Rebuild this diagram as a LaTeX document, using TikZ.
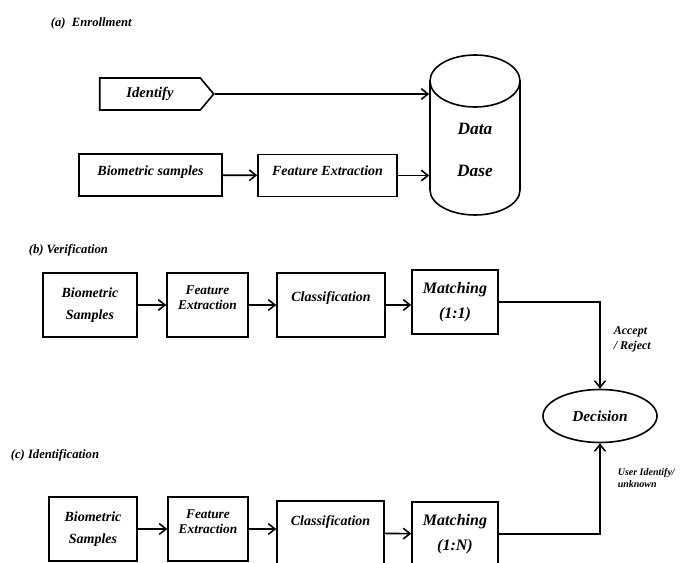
\documentclass[tikz,border=0pt]{standalone}
\usepackage{fontspec}
\setmainfont{Liberation Serif}
\usetikzlibrary{arrows.meta,shapes.symbols,shapes.geometric}
\newlength\pxu
\setlength\pxu{0.75pt}

\begin{document}
\begin{tikzpicture}[x=0.75pt,y=-0.75pt,line width=1.2pt,>={Straight Barb[length=5pt,width=8pt]},
    box/.style={draw,rectangle,align=center,inner sep=1pt,font=\bfseries\itshape\fontsize{10.5}{12.5}\selectfont},
    ttl/.style={anchor=west,inner sep=0pt,font=\bfseries\itshape\fontsize{9.5}{11}\selectfont},
    note/.style={anchor=west,align=left,inner sep=0pt,font=\bfseries\itshape\fontsize{9}{11}\selectfont}]
    \useasboundingbox (0,0) rectangle (687,563);
    \clip (0,0) rectangle (687,563);

    % titles
    \node[ttl] (ta) at (50,23) {(a)\ \ Enrollment};
    \node[ttl] (tb) at (28,250) {(b) Verification};
    \node[ttl] (tc) at (10,455) {(c) Identification};

    % enrollment
    \node[draw,signal,signal to=east,signal pointer angle=100,minimum width=114\pxu,minimum height=32\pxu,
        inner sep=1pt,font=\bfseries\itshape\fontsize{11}{13}\selectfont] (idf) at (150,94) {Identify};
    \begin{scope}[every node/.style={box,minimum height=42\pxu,text depth=7pt}]
        \node[minimum width=143\pxu] (bs1) at (150.5,175) {Biometric samples};
        \node[minimum width=139\pxu] (fe1) at (327.5,175.5) {Feature Extraction};
    \end{scope}
    \node[align=center,inner sep=0pt,minimum width=90\pxu,font=\bfseries\itshape\fontsize{13}{15}\selectfont] (db) at (475,150) {Data\\[17pt]Dase};
    \draw (475,81) ellipse [x radius=45,y radius=26];
    \draw (430,81) -- (430,190) arc [start angle=180,end angle=0,x radius=45,y radius=25] -- (520,81);

    % verification
    \begin{scope}[every node/.style={box,minimum height=64\pxu}]
        \node[minimum width=94\pxu] (bs2) at (90,305) {Biometric\\[4pt]Samples};
        \node[minimum width=81\pxu,text depth=11pt,font=\bfseries\itshape\fontsize{10}{11}\selectfont] (fe2) at (207.5,305) {Feature\\Extraction};
        \node[minimum width=108\pxu,text depth=13pt] (cl2) at (331,305) {Classification};
        \node[minimum width=86\pxu,font=\bfseries\itshape\fontsize{12}{14}\selectfont] (mt2) at (455,302) {Matching\\[5pt](1:1)};
    \end{scope}

    % decision
    \node[draw,ellipse,minimum width=114\pxu,minimum height=53\pxu,inner sep=0pt,
        font=\bfseries\itshape\fontsize{11.5}{13}\selectfont] (dec) at (600,416) {Decision};

    % identification
    \begin{scope}[every node/.style={box,minimum height=64\pxu}]
        \node[minimum width=88\pxu] (bs3) at (93,529) {Biometric\\[4pt]Samples};
        \node[minimum width=80\pxu,text depth=11pt,font=\bfseries\itshape\fontsize{10}{11}\selectfont] (fe3) at (208,529) {Feature\\Extraction};
        \node[minimum width=107\pxu,text depth=19pt] (cl3) at (330.5,533) {Classification};
        \node[minimum width=86\pxu,font=\bfseries\itshape\fontsize{12}{14}\selectfont] (mt3) at (455,534) {Matching\\[5pt](1:N)};
    \end{scope}

    % labels
    \node[note] (acc) at (613,339) {Accept\\/ Reject};
    \node[note,font=\bfseries\itshape\fontsize{7.5}{9}\selectfont] (usr) at (617,478) {User Identify/\\unknown};

    % connectors
    \begin{scope}[->]
        \draw (idf.east) -- (idf.east -| db.west);
        \path (bs1) edge (fe1);
        \draw (fe1) -- (fe1 -| db.west);

        \path (bs2) edge (fe2);
        \path (fe2) edge (cl2);
        \path (cl2) edge (cl2 -| mt2.west);
        \draw (mt2) -| (dec);

        \path (bs3) edge (fe3);
        \path (fe3) edge (fe3 -| cl3.west);
        \path (cl3) edge (mt3);
        \draw (mt3) -| (dec);
    \end{scope}
\end{tikzpicture}
\end{document}
